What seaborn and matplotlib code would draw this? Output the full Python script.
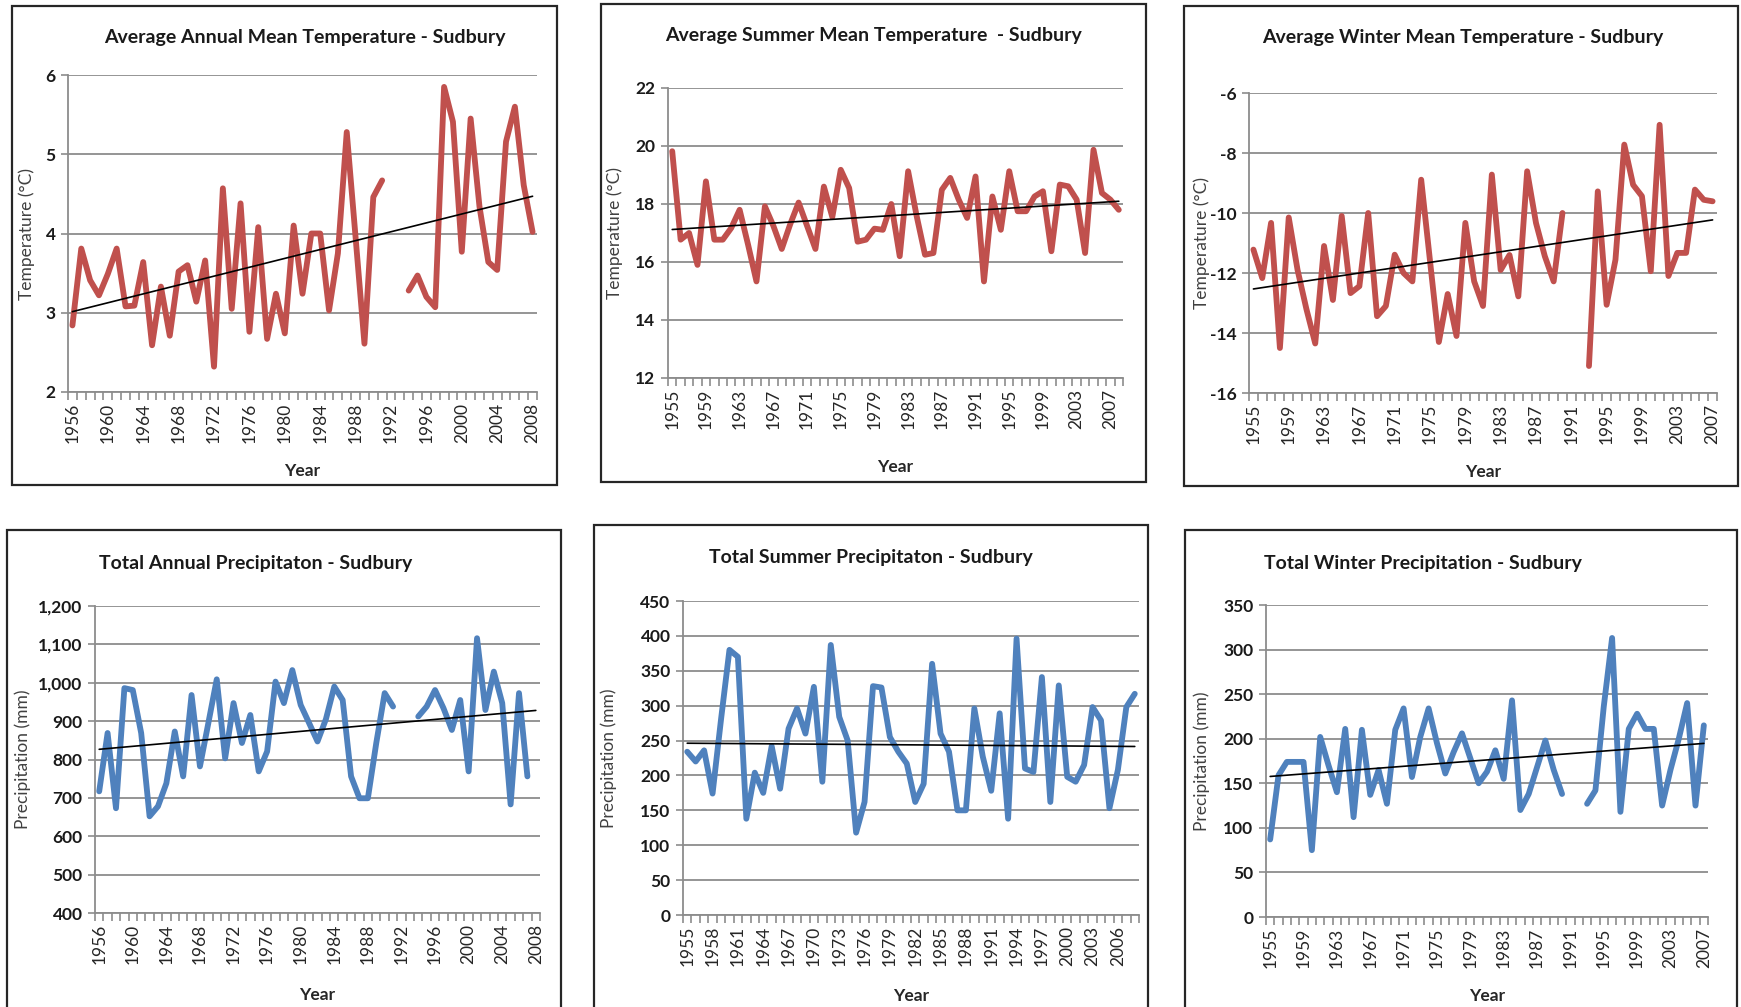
import numpy as np
import pandas as pd
import matplotlib
matplotlib.use('Agg')
import matplotlib.pyplot as plt
from matplotlib.patches import Rectangle
from matplotlib.ticker import FuncFormatter, FixedLocator
import seaborn as sns

sns.set_style('white')
plt.rcParams['font.family'] = ['Lato', 'DejaVu Sans']

nan = np.nan
RED = '#C0504D'
BLUE = '#4F81BD'

# ---- data ----
annual_temp_years = list(range(1956, 2009))
annual_temp = [2.84, 3.81, 3.41, 3.22, 3.49, 3.81, 3.08, 3.09, 3.64, 2.59,
               3.33, 2.71, 3.52, 3.60, 3.14, 3.66, 2.32, 4.57, 3.05, 4.38,
               2.76, 4.08, 2.67, 3.24, 2.74, 4.10, 3.24, 4.00, 4.00, 3.03,
               3.75, 5.28, 3.95, 2.61, 4.46, 4.67, nan, nan, 3.28, 3.47,
               3.20, 3.07, 5.85, 5.41, 3.77, 5.45, 4.34, 3.64, 3.54, 5.16,
               5.60, 4.61, 4.02]

summer_temp_years = list(range(1955, 2009))
summer_temp = [19.82, 16.77, 17.0, 15.9, 18.78, 16.77, 16.77, 17.17, 17.8, 16.6,
               15.33, 17.92, 17.25, 16.45, 17.3, 18.05, 17.25, 16.45, 18.6, 17.55,
               19.18, 18.55, 16.7, 16.77, 17.15, 17.11, 18.0, 16.2, 19.13, 17.6,
               16.25, 16.31, 18.49, 18.9, 18.15, 17.52, 18.95, 15.33, 18.26, 17.11,
               19.13, 17.75, 17.75, 18.26, 18.44, 16.37, 18.67, 18.61, 18.15, 16.31,
               19.87, 18.38, 18.15, 17.8]

winter_temp_years = list(range(1955, 2008))
winter_temp = [-11.22, -12.17, -10.33, -14.5, -10.15, -11.9, -13.2, -14.35, -11.1, -12.9,
               -10.1, -12.67, -12.44, -10.0, -13.44, -13.1, -11.39, -12.0, -12.28, -8.89,
               -11.6, -14.3, -12.7, -14.1, -10.33, -12.28, -13.1, -8.72, -11.9, -11.4,
               -12.78, -8.61, -10.33, -11.44, -12.28, -10.0, nan, nan, -15.1, -9.28,
               -13.06, -11.56, -7.72, -9.06, -9.44, -11.94, -7.06, -12.1, -11.33, -11.33,
               -9.22, -9.56, -9.61]

annual_prec_years = list(range(1956, 2009))
annual_prec = [717, 869, 673, 986, 981, 869, 652, 678, 738, 873,
               756, 968, 782, 895, 1009, 803, 947, 843, 916, 769,
               821, 1003, 947, 1033, 942, 895, 847, 905, 990, 955,
               756, 699, 699, 843, 973, 938, nan, nan, 912, 938,
               981, 934, 877, 955, 769, 1116, 929, 1029, 947, 683,
               973, 756, nan]

summer_prec_years = list(range(1955, 2009))
summer_prec = [234, 220, 236, 174, 280, 380, 370, 138, 204, 175,
               242, 181, 267, 296, 260, 327, 191, 387, 284, 250,
               118, 162, 328, 326, 255, 234, 217, 162, 188, 360,
               260, 234, 150, 150, 296, 227, 178, 289, 138, 396,
               210, 205, 341, 162, 329, 198, 191, 215, 298, 279,
               153, 208, 298, 317]

winter_prec_years = list(range(1955, 2008))
winter_prec = [87, 159, 174, 174, 174, 75, 202, 170, 140, 211,
               112, 210, 137, 165, 127, 210, 234, 157, 202, 234,
               195, 161, 185, 206, 178, 150, 163, 187, 155, 243,
               120, 138, 168, 198, 165, 138, nan, nan, 127, 142,
               236, 313, 118, 211, 228, 211, 211, 125, 165, 200,
               240, 125, 215]

W, H = 1741, 1007


def px_rect(x0, y0, x1, y1):
    return [x0 / W, 1 - y1 / H, (x1 - x0) / W, (y1 - y0) / H]


def make_frame(years, values):
    df = pd.DataFrame({'year': years, 'value': values})
    # a new segment after each gap so the line breaks like in the original
    df['seg'] = df['value'].isna().cumsum()
    return df.dropna()


def draw_panel(fig, p):
    years, values = p['years'], p['values']
    ax = fig.add_axes(px_rect(*p['ax_box']))
    df = make_frame(years, values)
    sns.lineplot(data=df, x='year', y='value', units='seg', estimator=None,
                 color=p['color'], lw=4.2, ax=ax, legend=False)

    # linear trend line
    coef = np.polyfit(df['year'], df['value'], 1)
    xs = np.array([years[0], years[-1]])
    ax.plot(xs, np.polyval(coef, xs), color='black', lw=1.2, zorder=3)

    lo, hi, step = p['ylim']
    ax.set_ylim(lo, hi)
    ax.set_yticks(np.arange(lo, hi + step / 2, step))
    ax.yaxis.set_major_formatter(FuncFormatter(p['yfmt']))
    ax.set_xlim(years[0] - 0.5, years[-1] + 0.5)
    ax.xaxis.set_major_locator(FixedLocator(years[::p['label_step']]))
    ax.xaxis.set_major_formatter(FuncFormatter(lambda v, _: f'{int(round(v))}'))
    ax.xaxis.set_minor_locator(FixedLocator(np.arange(years[0] - 0.5, years[-1] + 1, 1)))

    ax.yaxis.grid(True, color='#8c8c8c', lw=1.3)
    ax.xaxis.grid(False)
    for side in ['top', 'right']:
        ax.spines[side].set_visible(False)
    for side in ['left', 'bottom']:
        ax.spines[side].set_color('#8c8c8c')
        ax.spines[side].set_linewidth(1.3)

    ax.tick_params(axis='y', which='major', direction='out', length=5, width=1.2,
                   color='#8c8c8c', labelsize=12.5, labelcolor='#1a1a1a', pad=4, left=True)
    ax.tick_params(axis='x', which='major', length=0, labelsize=12.5,
                   labelcolor='#262626', labelrotation=90, pad=8, bottom=True)
    ax.tick_params(axis='x', which='minor', direction='out', length=6, width=1.2,
                   color='#8c8c8c', bottom=True)
    for lab in ax.get_yticklabels():
        lab.set_fontweight('bold')

    ax.set_ylabel(p['ylabel'], fontsize=12.5, color='#404040', va='center')
    ax.yaxis.set_label_coords(p['ylabel_x'], 0.5)
    ax.set_xlabel('Year', fontsize=12.5, fontweight='bold', color='#262626', va='center')
    ax.xaxis.set_label_coords(0.5, p['xlabel_y'])

    tx, ty = p['title_xy']
    fig.text(tx / W, 1 - ty / H, p['title'], ha='center', va='center',
             fontsize=14, fontweight='bold', color='#1a1a1a')

    x0, y0, x1, y1 = p['frame']
    fig.add_artist(Rectangle((x0 / W, 1 - y1 / H), (x1 - x0) / W, (y1 - y0) / H,
                             transform=fig.transFigure, fill=False,
                             ec='#262626', lw=1.6))
    return ax


plain = lambda v, _: f'{v:g}'
commas = lambda v, _: f'{v:,.0f}'

panels = [
    dict(years=annual_temp_years, values=annual_temp, color=RED,
         title='Average Annual Mean Temperature - Sudbury', title_xy=(305, 38),
         ylabel='Temperature (°C)', ylim=(2, 6, 1), yfmt=plain, label_step=4,
         ax_box=(68, 75, 537, 392), frame=(12, 6, 557, 485),
         ylabel_x=-0.087, xlabel_y=-0.25),
    dict(years=summer_temp_years, values=summer_temp, color=RED,
         title='Average Summer Mean Temperature  - Sudbury', title_xy=(873, 36),
         ylabel='Temperature (°C)', ylim=(12, 22, 2), yfmt=plain, label_step=4,
         ax_box=(668, 88, 1123, 378), frame=(601, 4, 1146, 482),
         ylabel_x=-0.117, xlabel_y=-0.307),
    dict(years=winter_temp_years, values=winter_temp, color=RED,
         title='Average Winter Mean Temperature - Sudbury', title_xy=(1463, 37),
         ylabel='Temperature (°C)', ylim=(-16, -6, 2), yfmt=plain, label_step=4,
         ax_box=(1249, 93, 1717, 393), frame=(1184, 6, 1738, 486),
         ylabel_x=-0.102, xlabel_y=-0.262),
    dict(years=annual_prec_years, values=annual_prec, color=BLUE,
         title='Total Annual Precipitaton - Sudbury', title_xy=(256, 563),
         ylabel='Precipitation (mm)', ylim=(400, 1200, 100), yfmt=commas, label_step=4,
         ax_box=(95, 606, 540, 913), frame=(7, 530, 561, 1012),
         ylabel_x=-0.163, xlabel_y=-0.266),
    dict(years=summer_prec_years, values=summer_prec, color=BLUE,
         title='Total Summer Precipitaton - Sudbury', title_xy=(871, 557),
         ylabel='Precipitation (mm)', ylim=(0, 450, 50), yfmt=plain, label_step=3,
         ax_box=(683, 601, 1139, 915), frame=(594, 525, 1148, 1012),
         ylabel_x=-0.162, xlabel_y=-0.258),
    dict(years=winter_prec_years, values=winter_prec, color=BLUE,
         title='Total Winter Precipitation - Sudbury', title_xy=(1423, 563),
         ylabel='Precipitation (mm)', ylim=(0, 350, 50), yfmt=plain, label_step=4,
         ax_box=(1266, 605, 1708, 917), frame=(1185, 530, 1737, 1012),
         ylabel_x=-0.145, xlabel_y=-0.254),
]

fig = plt.figure(figsize=(W / 100, H / 100), dpi=100)
fig.patch.set_facecolor('white')
for p in panels:
    draw_panel(fig, p)

fig.savefig('out.png', dpi=100, facecolor='white')
